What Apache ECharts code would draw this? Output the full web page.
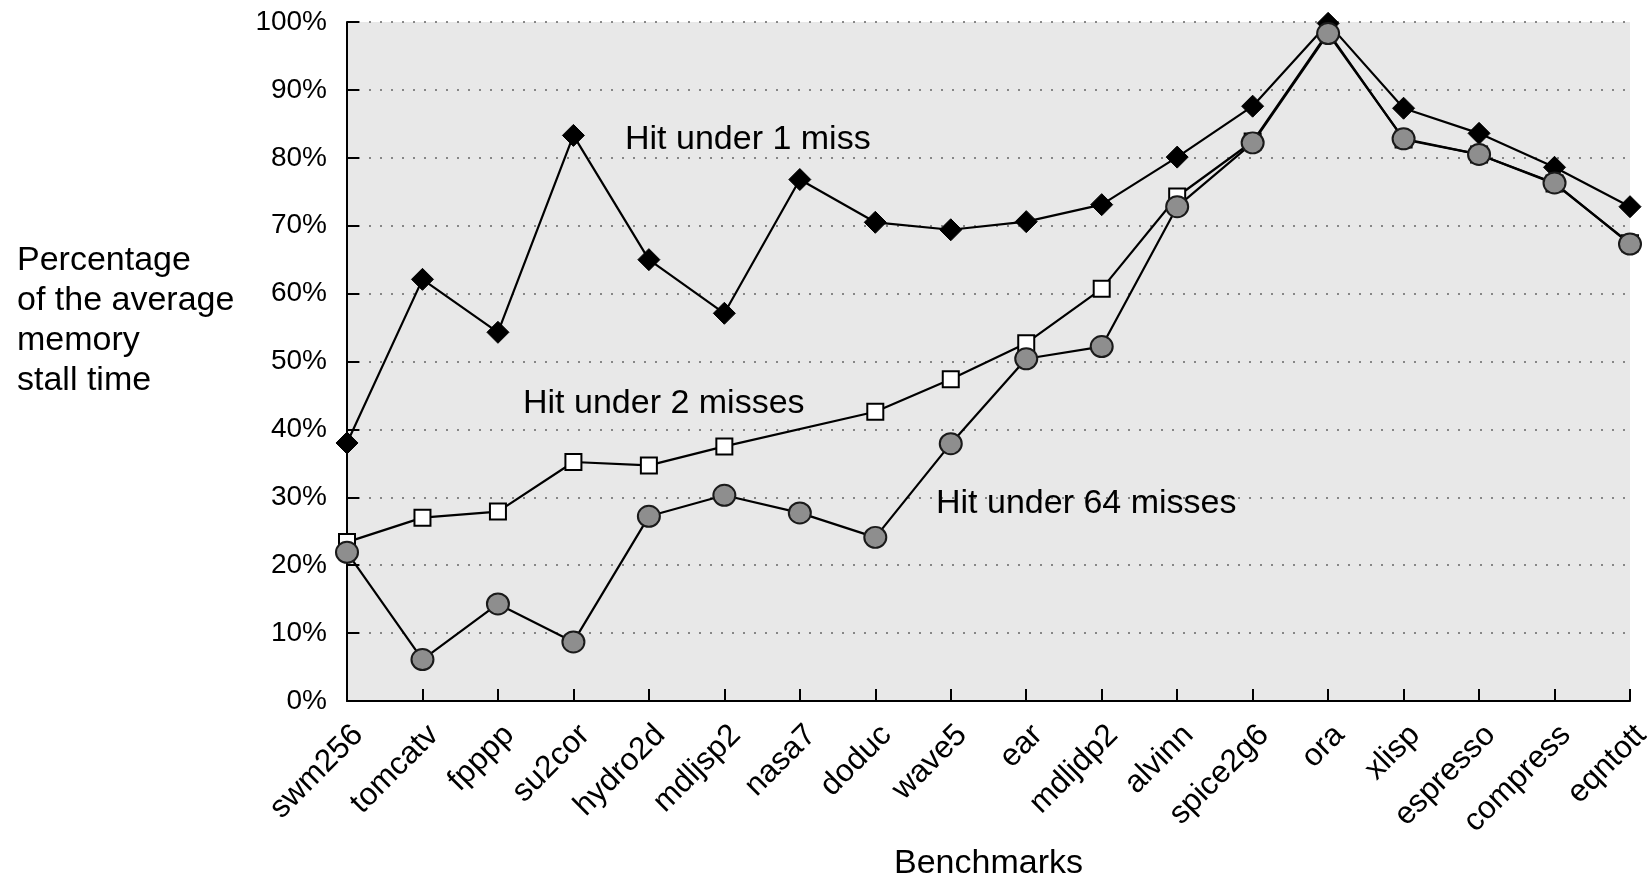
<!DOCTYPE html>
<html>
<head>
<meta charset="utf-8">
<script src="https://cdn.jsdelivr.net/npm/echarts@6/dist/echarts.min.js"></script>
<style>
html,body{margin:0;padding:0;background:#fff;}
#chart{width:1651px;height:878px;}
</style>
</head>
<body>
<div id="chart"></div>
<script>
const categories = ['swm256','tomcatv','fpppp','su2cor','hydro2d','mdljsp2','nasa7','doduc','wave5','ear','mdljdp2','alvinn','spice2g6','ora','xlisp','espresso','compress','eqntott'];
const hitUnder1 = [38.0, 62.1, 54.3, 83.3, 65.0, 57.1, 76.8, 70.5, 69.4, 70.6, 73.1, 80.1, 87.6, 99.8, 87.3, 83.6, 78.6, 72.8];
const hitUnder2 = [23.4, 27.0, 27.9, 35.2, 34.7, 37.5, null, 42.6, 47.4, 52.7, 60.7, 74.3, 82.4, 98.5, 82.7, 80.5, 76.2, 67.4];
const hitUnder64 = [21.9, 6.1, 14.3, 8.7, 27.2, 30.3, 27.7, 24.1, 37.9, 50.4, 52.2, 72.8, 82.2, 98.3, 82.8, 80.5, 76.3, 67.3];
const seriesNames = ['Hit under 1 miss', 'Hit under 2 misses', 'Hit under 64 misses'];
const yAxisTitle = ['Percentage', 'of the average', 'memory', 'stall time'];
const xAxisTitle = 'Benchmarks';

const FONT = '"Liberation Sans", Arial, Helvetica, sans-serif';
const chart = echarts.init(document.getElementById('chart'), null, {renderer: 'canvas'});

chart.setOption({
  animation: false,
  backgroundColor: '#ffffff',
  textStyle: {fontFamily: FONT, color: '#000'},
  grid: {
    left: 347, right: 21, top: 22, bottom: 177,
    outerBoundsMode: 'none',
    containLabel: false,
    show: true, backgroundColor: '#e8e8e8', borderWidth: 0
  },
  xAxis: {
    type: 'category',
    data: categories,
    boundaryGap: false,
    name: xAxisTitle,
    nameLocation: 'middle',
    nameGap: 146,
    nameTextStyle: {fontSize: 34, color: '#000', fontFamily: FONT},
    axisLine: {lineStyle: {color: '#000', width: 2}},
    axisTick: {inside: true, length: 12, lineStyle: {color: '#000', width: 2}},
    axisLabel: {rotate: 45, fontSize: 31.5, color: '#000', margin: 18, verticalAlign: 'top', fontFamily: FONT, interval: 0},
    splitLine: {show: false}
  },
  yAxis: {
    type: 'value',
    min: 0, max: 100, interval: 10,
    axisLine: {show: true, lineStyle: {color: '#000', width: 2}},
    axisTick: {show: true, inside: true, length: 12, lineStyle: {color: '#000', width: 2}},
    axisLabel: {formatter: '{value}%', fontSize: 28, color: '#000', margin: 20, fontFamily: FONT},
    splitLine: {show: true, lineStyle: {color: '#666', width: 1.5, type: [2, 9]}}
  },
  series: [
    {
      name: seriesNames[0], type: 'line', data: hitUnder1, z: 2,
      symbol: 'diamond', symbolSize: [22, 22],
      lineStyle: {color: '#000', width: 2.2},
      itemStyle: {color: '#000', borderColor: '#000', borderWidth: 1}
    },
    {
      name: seriesNames[1], type: 'line', data: hitUnder2, z: 3, connectNulls: true,
      symbol: 'rect', symbolSize: [16, 16],
      lineStyle: {color: '#000', width: 2.2},
      itemStyle: {color: '#ffffff', borderColor: '#000', borderWidth: 2}
    },
    {
      name: seriesNames[2], type: 'line', data: hitUnder64, z: 4,
      symbol: 'circle', symbolSize: [22, 21],
      lineStyle: {color: '#000', width: 2.2},
      itemStyle: {color: '#8e8e8e', borderColor: '#1a1a1a', borderWidth: 2}
    }
  ],
  graphic: [
    {type: 'text', x: 625, y: 140, z: 10, style: {text: seriesNames[0], font: '34px ' + FONT, fill: '#000', verticalAlign: 'middle'}},
    {type: 'text', x: 523, y: 404, z: 10, style: {text: seriesNames[1], font: '34px ' + FONT, fill: '#000', verticalAlign: 'middle'}},
    {type: 'text', x: 936, y: 504, z: 10, style: {text: seriesNames[2], font: '34px ' + FONT, fill: '#000', verticalAlign: 'middle'}},
    {type: 'text', x: 17, y: 241, z: 10, style: {text: yAxisTitle.join('\n'), font: '34px ' + FONT, lineHeight: 40, fill: '#000', verticalAlign: 'top'}}
  ]
});
</script>
</body>
</html>
